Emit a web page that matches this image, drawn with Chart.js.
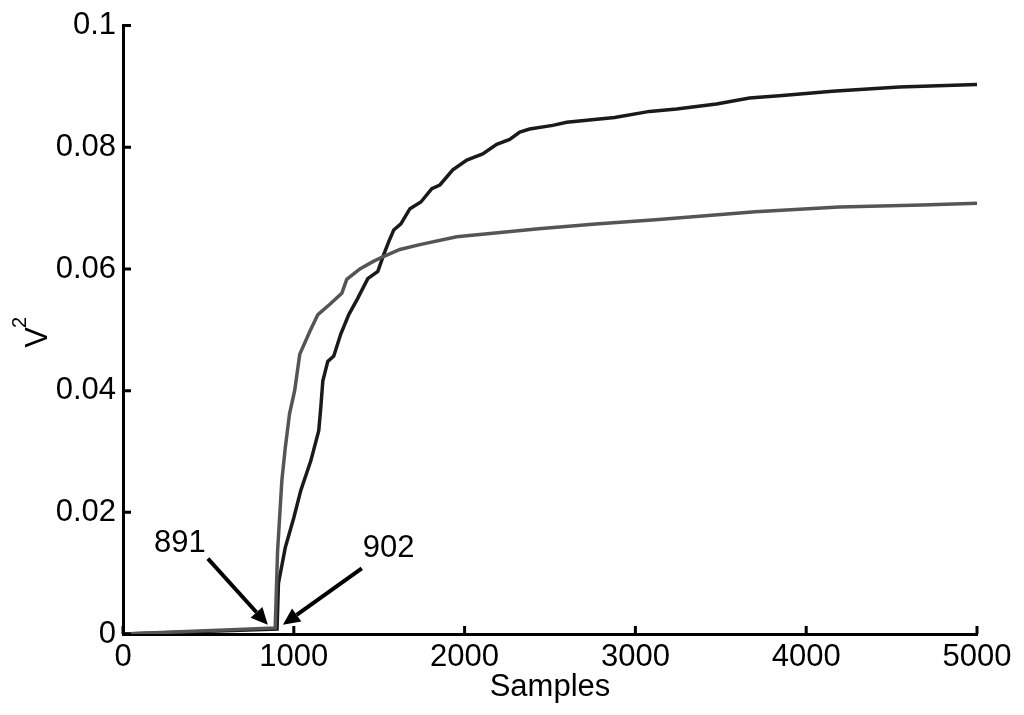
<!DOCTYPE html>
<html>
<head>
<meta charset="utf-8">
<script src="https://cdn.jsdelivr.net/npm/chart.js@4"></script>
<style>
  html, body { margin: 0; padding: 0; background: #fff; }
  #wrap { width: 1024px; height: 715px; }
</style>
</head>
<body>
<div id="wrap"><canvas id="chart"></canvas></div>
<script>
// x ticks and y tick labels
const xTicks = [0, 1000, 2000, 3000, 4000, 5000];
const yTickLabels = ["0", "0.02", "0.04", "0.06", "0.08", "0.1"];

// grey curve (onset at 891)
const greyX = [0, 891, 905, 930, 950, 975, 1005, 1035, 1095, 1141, 1211, 1281, 1310, 1387, 1463, 1521, 1621, 1738, 1954, 2434, 2767, 3118, 3702, 4193, 4679, 5000];
const greyY = [0, 0.001, 0.0136, 0.0252, 0.0306, 0.0362, 0.040, 0.046, 0.0498, 0.0525, 0.0542, 0.056, 0.0583, 0.060, 0.0612, 0.062, 0.0632, 0.064, 0.0653, 0.0666, 0.0674, 0.0681, 0.0694, 0.0702, 0.0705, 0.0708];

// black curve (onset at 902)
const blackX = [0, 902, 910, 950, 1000, 1041, 1100, 1146, 1158, 1170, 1199, 1234, 1275, 1322, 1375, 1433, 1492, 1527, 1556, 1585, 1627, 1680, 1744, 1808, 1855, 1931, 2013, 2106, 2188, 2264, 2323, 2381, 2516, 2598, 2878, 3083, 3241, 3475, 3668, 3861, 4153, 4545, 5000];
const blackY = [0, 0.0008, 0.0083, 0.0142, 0.0191, 0.0236, 0.0285, 0.0334, 0.0372, 0.0416, 0.0448, 0.0457, 0.0493, 0.0525, 0.0552, 0.0584, 0.0596, 0.0624, 0.0645, 0.0664, 0.0674, 0.0699, 0.071, 0.0732, 0.0738, 0.0763, 0.0779, 0.0789, 0.0805, 0.0813, 0.0825, 0.083, 0.0836, 0.0841, 0.0849, 0.0859, 0.0863, 0.0871, 0.0881, 0.0885, 0.0892, 0.0899, 0.0903];

// arrow annotations: label, label pos, tail, head (data units)
const notes = [
  { text: "891", label: [333, 0.0149], from: [497, 0.0124], to: [848, 0.0015] },
  { text: "902", label: [1555, 0.0140], from: [1398, 0.0108], to: [936, 0.0015] }
];

const toPoints = (xs, ys) => xs.map((x, i) => ({ x: x, y: ys[i] }));

const FONT = "'Liberation Sans', Arial, sans-serif";

const extras = {
  id: "extras",
  afterDraw(chart) {
    const ctx = chart.ctx;
    const xs = chart.scales.x, ys = chart.scales.y;
    const len = 8;
    ctx.save();
    // inward tick marks
    ctx.strokeStyle = "#000";
    ctx.lineWidth = 3;
    ctx.beginPath();
    xTicks.forEach(v => {
      const px = xs.getPixelForValue(v);
      ctx.moveTo(px, ys.bottom);
      ctx.lineTo(px, ys.bottom - len);
    });
    yTickLabels.forEach((l, i) => {
      const py = ys.getPixelForValue(i * 0.02);
      ctx.moveTo(xs.left, py);
      ctx.lineTo(xs.left + len, py);
    });
    ctx.stroke();

    // y title V^2, rotated
    const mid = (ys.top + ys.bottom) / 2;
    ctx.fillStyle = "#000";
    ctx.save();
    ctx.translate(47, mid + 18);
    ctx.rotate(-Math.PI / 2);
    ctx.textAlign = "left";
    ctx.textBaseline = "alphabetic";
    ctx.font = "31px " + FONT;
    ctx.fillText("V", 0, 0);
    const vw = ctx.measureText("V").width;
    ctx.font = "20px " + FONT;
    ctx.fillText("2", vw - 1, -21);
    ctx.restore();

    // annotations
    ctx.font = "31px " + FONT;
    ctx.textAlign = "center";
    ctx.textBaseline = "middle";
    notes.forEach(n => {
      const lx = xs.getPixelForValue(n.label[0]), ly = ys.getPixelForValue(n.label[1]);
      ctx.fillText(n.text, lx, ly);
      const x1 = xs.getPixelForValue(n.from[0]), y1 = ys.getPixelForValue(n.from[1]);
      const x2 = xs.getPixelForValue(n.to[0]), y2 = ys.getPixelForValue(n.to[1]);
      const ang = Math.atan2(y2 - y1, x2 - x1);
      const hl = 17, hw = 8;
      const bx = x2 - hl * Math.cos(ang), by = y2 - hl * Math.sin(ang);
      ctx.beginPath();
      ctx.lineWidth = 4;
      ctx.moveTo(x1, y1);
      ctx.lineTo(bx, by);
      ctx.stroke();
      ctx.beginPath();
      ctx.moveTo(x2, y2);
      ctx.lineTo(bx + hw * Math.sin(ang), by - hw * Math.cos(ang));
      ctx.lineTo(bx - hw * Math.sin(ang), by + hw * Math.cos(ang));
      ctx.closePath();
      ctx.fill();
    });
    ctx.restore();
  }
};

new Chart(document.getElementById("chart"), {
  type: "line",
  data: {
    datasets: [
      {
        data: toPoints(greyX, greyY),
        borderColor: "#555555",
        borderWidth: 3.5,
        pointRadius: 0,
        tension: 0
      },
      {
        data: toPoints(blackX, blackY),
        borderColor: "#1a1a1a",
        borderWidth: 3.5,
        pointRadius: 0,
        tension: 0
      }
    ]
  },
  options: {
    responsive: true,
    maintainAspectRatio: false,
    animation: false,
    layout: { padding: { top: 23, right: 47, left: 0, bottom: 0 } },
    plugins: { legend: { display: false }, tooltip: { enabled: false } },
    scales: {
      x: {
        type: "linear",
        min: 0,
        max: 5000,
        grid: { display: false, drawTicks: false },
        border: { display: true, color: "#000", width: 3 },
        ticks: {
          stepSize: 1000,
          padding: 5,
          color: "#000",
          maxRotation: 0,
          font: { family: FONT, size: 31 },
          callback: v => String(v)
        },
        title: {
          display: true,
          text: "Samples",
          color: "#000",
          padding: { top: 0, bottom: 9 },
          font: { family: FONT, size: 31 }
        },
        afterFit: s => { s.height = 81; }
      },
      y: {
        min: 0,
        max: 0.1,
        grid: { display: false, drawTicks: false },
        border: { display: true, color: "#000", width: 3 },
        ticks: {
          stepSize: 0.02,
          padding: 7,
          color: "#000",
          font: { family: FONT, size: 31 },
          callback: (v, i) => yTickLabels[i]
        },
        title: { display: false },
        afterFit: s => { s.width = 123; }
      }
    }
  },
  plugins: [extras]
});
</script>
</body>
</html>
